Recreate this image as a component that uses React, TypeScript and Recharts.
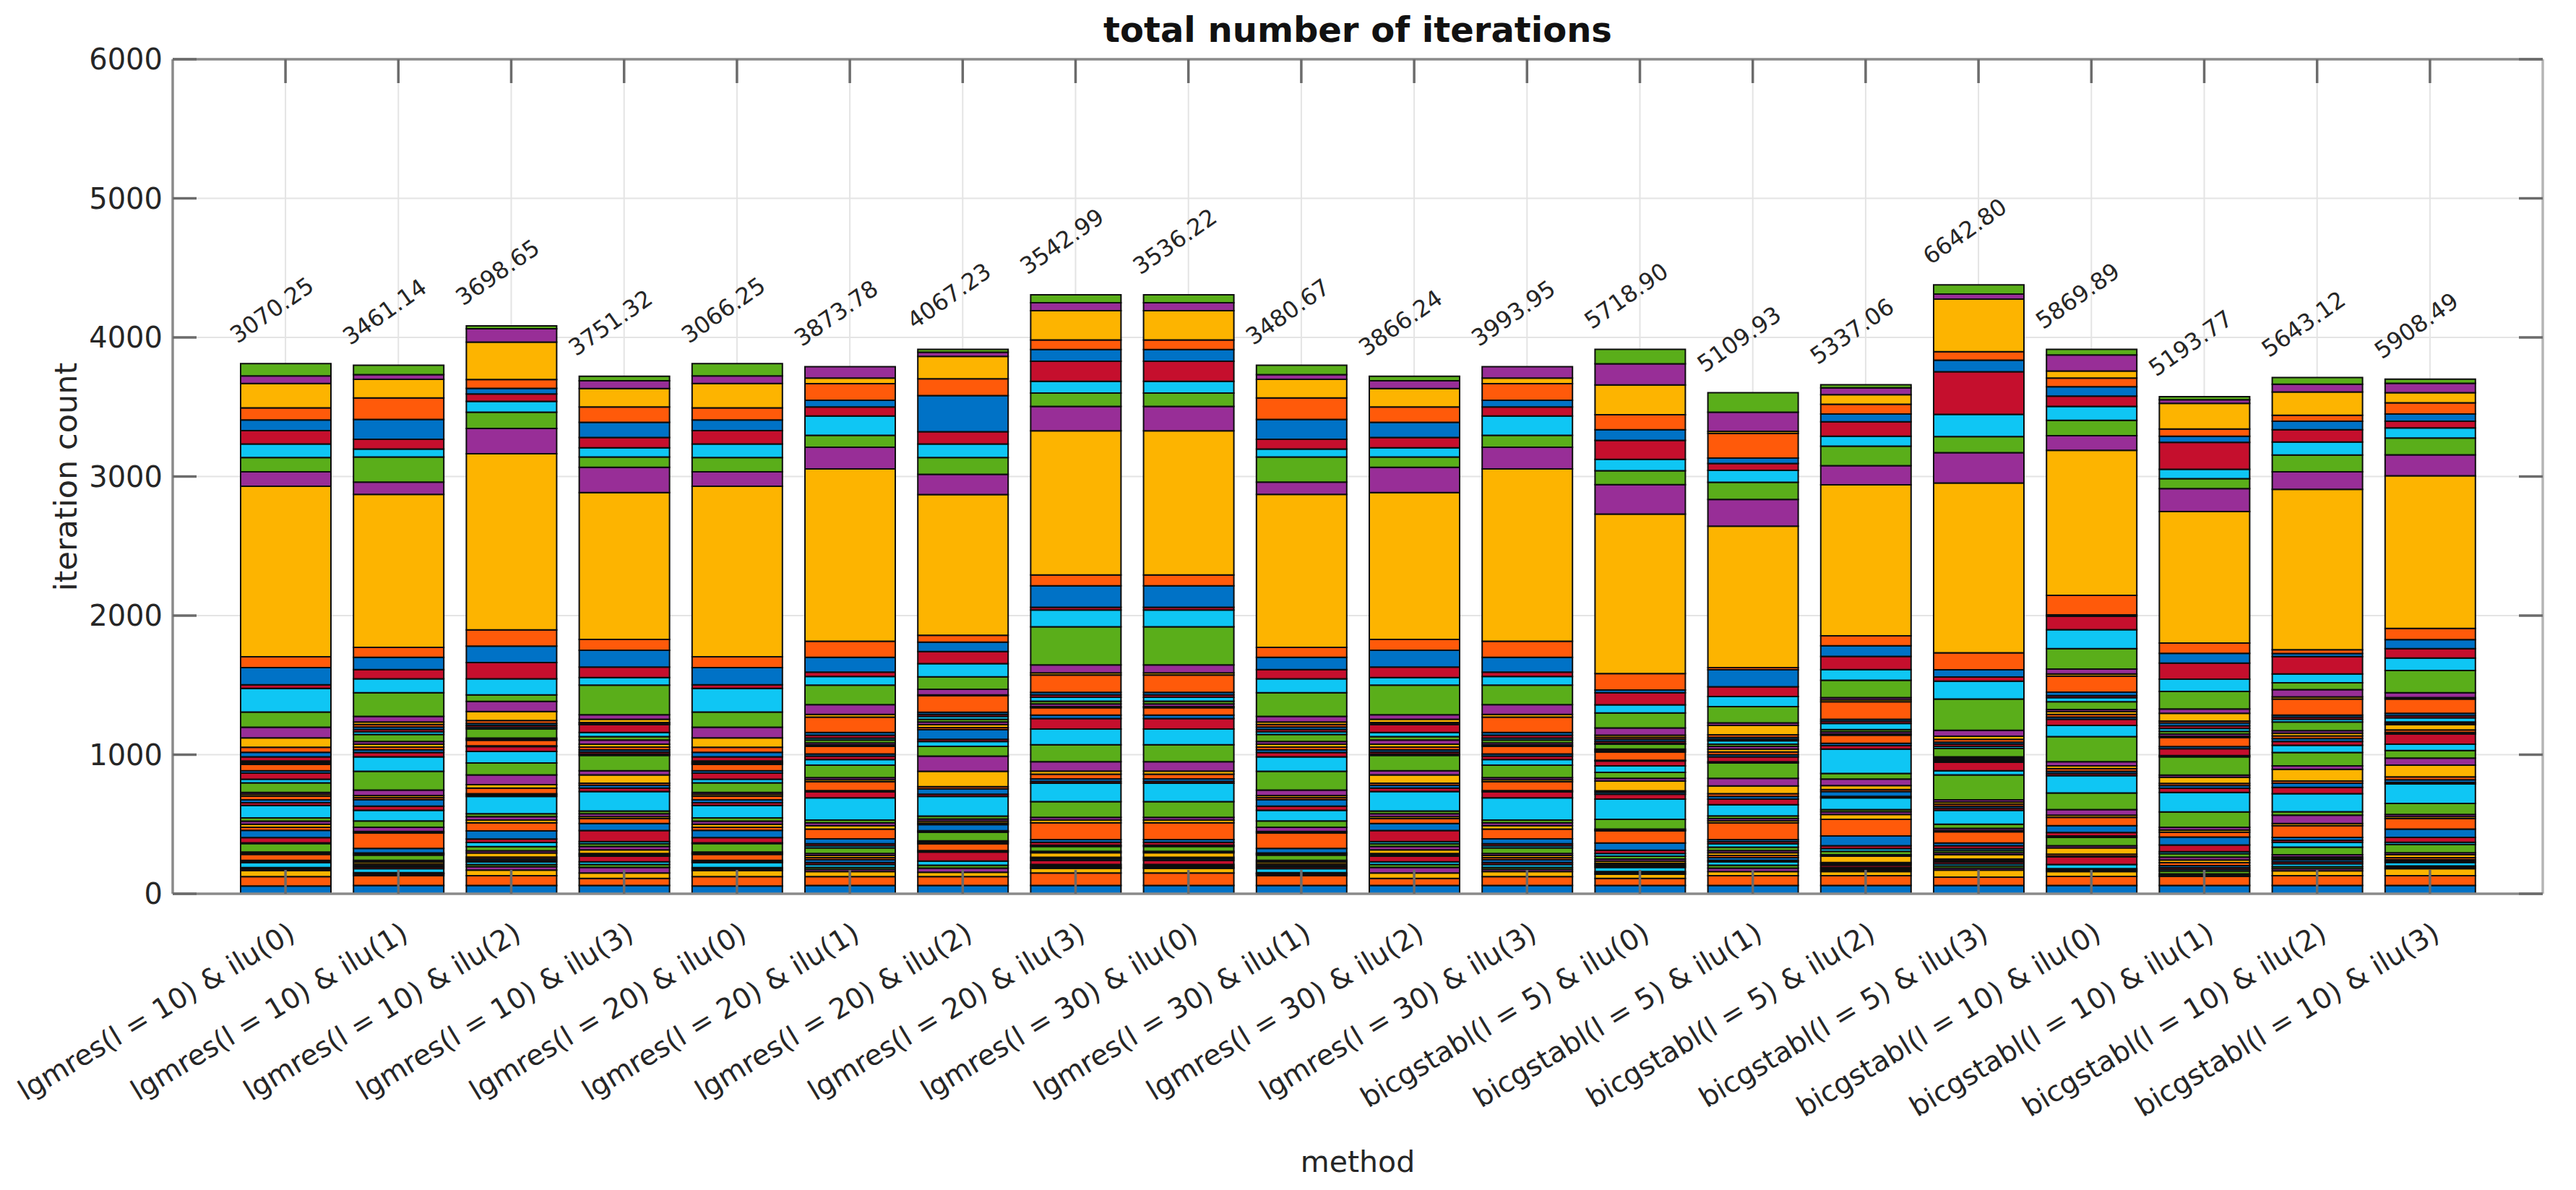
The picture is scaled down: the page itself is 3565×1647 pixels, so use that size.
import React from 'react';
import { ComposedChart, Bar, Line, XAxis, YAxis, CartesianGrid } from 'recharts';

const methods = [
  'lgmres(l = 10) & ilu(0)', 'lgmres(l = 10) & ilu(1)', 'lgmres(l = 10) & ilu(2)', 'lgmres(l = 10) & ilu(3)',
  'lgmres(l = 20) & ilu(0)', 'lgmres(l = 20) & ilu(1)', 'lgmres(l = 20) & ilu(2)', 'lgmres(l = 20) & ilu(3)',
  'lgmres(l = 30) & ilu(0)', 'lgmres(l = 30) & ilu(1)', 'lgmres(l = 30) & ilu(2)', 'lgmres(l = 30) & ilu(3)',
  'bicgstabl(l = 5) & ilu(0)', 'bicgstabl(l = 5) & ilu(1)', 'bicgstabl(l = 5) & ilu(2)', 'bicgstabl(l = 5) & ilu(3)',
  'bicgstabl(l = 10) & ilu(0)', 'bicgstabl(l = 10) & ilu(1)', 'bicgstabl(l = 10) & ilu(2)', 'bicgstabl(l = 10) & ilu(3)',
];

const annotations = [
  '3070.25', '3461.14', '3698.65', '3751.32', '3066.25', '3873.78', '4067.23', '3542.99', '3536.22', '3480.67',
  '3866.24', '3993.95', '5718.90', '5109.93', '5337.06', '6642.80', '5869.89', '5193.77', '5643.12', '5908.49',
];

const yTicks = [0, 1000, 2000, 3000, 4000, 5000, 6000];

const palette = ['#0072C6', '#FF5A0A', '#FDB400', '#982E97', '#5AAE1A', '#0FC6F4', '#C50F2D'];

// stacked segment values (bottom to top) for each method
const lgmres10_ilu0 = [56, 67, 43, 12, 10, 35, 8, 9, 43, 8, 9, 61, 5, 38, 52, 22, 22, 22, 23, 90, 20, 20, 28, 12, 14, 69, 26, 44, 17, 45, 6, 6, 6, 6, 30, 33, 36, 68, 76, 110, 170, 25, 124, 78, 1226, 104, 103, 97, 96, 76, 88, 175, 55, 88];
const lgmres10_ilu1 = [60, 70, 10, 6, 6, 28, 12, 12, 12, 12, 12, 38, 8, 8, 32, 112, 10, 30, 45, 77, 30, 47, 15, 15, 39, 134, 105, 30, 20, 20, 20, 20, 50, 18, 18, 18, 18, 18, 40, 170, 100, 67, 88, 72, 1100, 88, 180, 57, 71, 142, 155, 134, 33, 68];
const lgmres10_ilu2 = [60, 70, 40, 25, 15, 18, 12, 12, 12, 30, 15, 30, 30, 25, 58, 58, 20, 25, 20, 125, 10, 10, 40, 25, 70, 85, 83, 35, 6, 40, 8, 8, 66, 12, 12, 15, 20, 66, 72, 47, 115, 117, 119, 116, 1267, 181, 117, 78, 54, 40, 63, 269, 96, 21];
const lgmres10_ilu3 = [60, 50, 40, 40, 20, 20, 40, 10, 10, 25, 25, 20, 15, 80, 50, 35, 15, 20, 20, 140, 25, 20, 15, 60, 30, 110, 10, 15, 15, 20, 20, 30, 25, 30, 55, 8, 8, 24, 32, 213, 55, 75, 121, 78, 1056, 181, 74, 66, 75, 108, 111, 132, 56, 33];
const lgmres20_ilu0 = [56, 67, 43, 12, 10, 35, 8, 9, 43, 8, 9, 61, 5, 38, 52, 22, 22, 22, 23, 90, 20, 20, 28, 12, 14, 69, 26, 44, 17, 45, 6, 6, 6, 6, 30, 33, 36, 68, 76, 110, 170, 25, 124, 78, 1226, 104, 103, 97, 96, 76, 88, 175, 55, 88];
const lgmres20_ilu1 = [60, 63, 37, 15, 15, 20, 15, 20, 15, 15, 15, 40, 15, 15, 35, 70, 25, 20, 20, 160, 42, 10, 63, 15, 15, 90, 40, 25, 15, 55, 10, 15, 20, 15, 20, 20, 110, 20, 70, 140, 62, 32, 106, 115, 1240, 155, 86, 139, 65, 48, 120, 40, 82, 0];
const lgmres20_ilu2 = [60, 63, 32, 30, 20, 30, 65, 10, 50, 10, 10, 63, 5, 5, 45, 10, 14, 16, 20, 142, 15, 40, 15, 110, 110, 70, 35, 15, 70, 15, 20, 20, 20, 20, 15, 15, 120, 5, 40, 90, 94, 87, 68, 49, 1012, 146, 121, 97, 88, 260, 121, 160, 30, 21];
const lgmres20_ilu3 = [60, 90, 33, 7, 10, 10, 30, 12, 10, 33, 10, 35, 10, 20, 20, 120, 20, 20, 112, 133, 13, 18, 34, 22, 68, 122, 113, 75, 25, 53, 7, 20, 20, 28, 17, 18, 125, 15, 57, 275, 120, 20, 154, 78, 1036, 176, 96, 84, 145, 84, 69, 210, 58, 56];
const lgmres30_ilu0 = [60, 90, 33, 7, 10, 10, 30, 12, 10, 33, 10, 35, 10, 20, 20, 120, 20, 20, 112, 133, 13, 18, 34, 22, 68, 122, 113, 75, 25, 53, 7, 20, 20, 28, 17, 18, 125, 15, 57, 275, 120, 20, 154, 78, 1036, 176, 96, 84, 145, 84, 69, 210, 58, 56];
const lgmres30_ilu1 = [60, 70, 10, 6, 6, 28, 12, 12, 12, 12, 12, 38, 8, 8, 32, 112, 10, 30, 45, 77, 30, 47, 15, 15, 39, 134, 105, 30, 20, 20, 20, 20, 50, 18, 18, 18, 18, 18, 40, 170, 100, 67, 88, 72, 1100, 88, 180, 57, 71, 142, 155, 134, 33, 68];
const lgmres30_ilu2 = [60, 50, 40, 40, 20, 20, 40, 10, 10, 25, 25, 20, 15, 80, 50, 35, 15, 20, 20, 140, 25, 20, 15, 60, 30, 110, 10, 15, 15, 20, 20, 30, 25, 30, 55, 8, 8, 24, 32, 213, 55, 75, 121, 78, 1056, 181, 74, 66, 75, 108, 111, 132, 56, 33];
const lgmres30_ilu3 = [60, 63, 37, 15, 15, 20, 15, 20, 15, 15, 15, 40, 15, 15, 35, 70, 25, 20, 20, 160, 42, 10, 63, 15, 15, 90, 40, 25, 15, 55, 10, 15, 20, 15, 20, 20, 110, 20, 70, 140, 62, 32, 106, 115, 1240, 155, 86, 139, 65, 48, 120, 40, 82, 0];
const bicg5_ilu0 = [60, 50, 30, 10, 10, 30, 10, 10, 10, 15, 15, 20, 20, 23, 52, 87, 6, 7, 70, 145, 35, 15, 10, 70, 20, 43, 47, 35, 5, 60, 10, 10, 35, 5, 15, 15, 15, 15, 52, 108, 58, 87, 20, 118, 1147, 212, 99, 83, 136, 77, 107, 215, 151, 104];
const bicg5_ilu1 = [60, 70, 30, 25, 20, 25, 10, 20, 15, 20, 15, 25, 25, 15, 15, 120, 15, 15, 20, 80, 40, 20, 20, 55, 55, 110, 10, 35, 15, 20, 20, 20, 15, 25, 10, 15, 18, 67, 18, 117, 73, 70, 122, 16, 1017, 192, 123, 86, 50, 38, 178, 15, 137, 141];
const bicg5_ilu2 = [60, 70, 30, 10, 10, 10, 15, 10, 10, 45, 10, 25, 20, 20, 70, 120, 35, 20, 15, 85, 10, 35, 15, 28, 47, 40, 175, 25, 17, 58, 10, 15, 15, 45, 15, 15, 125, 15, 15, 125, 77, 95, 76, 71, 1086, 138, 140, 72, 103, 56, 70, 69, 50, 22];
const bicg5_ilu3 = [60, 60, 50, 15, 15, 15, 15, 10, 10, 30, 15, 15, 15, 20, 20, 80, 10, 15, 30, 100, 15, 15, 15, 15, 15, 180, 30, 60, 10, 10, 10, 10, 60, 15, 15, 15, 20, 22, 43, 225, 128, 30, 52, 123, 1220, 218, 116, 160, 306, 84, 61, 377, 37, 66];
const bicg10_ilu0 = [60, 65, 35, 10, 10, 30, 55, 5, 15, 45, 15, 60, 10, 25, 50, 60, 15, 40, 120, 125, 15, 15, 20, 20, 30, 180, 80, 45, 15, 20, 20, 15, 55, 30, 15, 25, 115, 15, 35, 147, 137, 96, 10, 140, 1043, 106, 110, 100, 74, 67, 63, 50, 116, 40];
const bicg10_ilu1 = [60, 65, 8, 10, 20, 12, 13, 15, 20, 20, 20, 25, 15, 48, 57, 35, 15, 20, 110, 140, 30, 20, 15, 45, 15, 132, 8, 50, 15, 65, 10, 15, 20, 20, 20, 20, 13, 57, 30, 127, 88, 115, 70, 75, 945, 165, 72, 67, 194, 44, 51, 185, 26, 22];
const bicg10_ilu2 = [60, 70, 35, 15, 15, 20, 15, 15, 10, 10, 15, 55, 35, 15, 20, 85, 15, 60, 25, 130, 45, 30, 15, 85, 25, 95, 52, 28, 20, 20, 20, 18, 62, 20, 15, 15, 115, 15, 52, 50, 63, 125, 22, 28, 1153, 126, 120, 94, 89, 60, 43, 168, 55, 49];
const bicg10_ilu3 = [60, 70, 50, 10, 10, 25, 10, 10, 15, 20, 15, 60, 15, 35, 60, 75, 15, 15, 80, 140, 10, 20, 20, 85, 50, 55, 45, 75, 10, 18, 37, 10, 10, 30, 15, 18, 102, 10, 35, 160, 90, 67, 65, 81, 1097, 151, 120, 74, 48, 51, 81, 73, 67, 30];

const stacks = [
  lgmres10_ilu0, lgmres10_ilu1, lgmres10_ilu2, lgmres10_ilu3,
  lgmres20_ilu0, lgmres20_ilu1, lgmres20_ilu2, lgmres20_ilu3,
  lgmres30_ilu0, lgmres30_ilu1, lgmres30_ilu2, lgmres30_ilu3,
  bicg5_ilu0, bicg5_ilu1, bicg5_ilu2, bicg5_ilu3,
  bicg10_ilu0, bicg10_ilu1, bicg10_ilu2, bicg10_ilu3,
];

const SERIES_COUNT = lgmres10_ilu0.length;
const seriesKeys = Array.from({ length: SERIES_COUNT }, (_, k) => `s${k}`);

const data = methods.map((m, i) => {
  const row: any = { method: m, total: stacks[i].reduce((a, b) => a + b, 0) };
  stacks[i].forEach((v, k) => {
    row[`s${k}`] = v;
  });
  return row;
});

const FONT = '"DejaVu Sans", "Liberation Sans", Arial, sans-serif';
const TEXT = '#262626';
const AXIS = '#8a8a8a';
const TICK = '#6b6b6b';
const TL = 33;

const XTickBottom = (props: any) => {
  const { x, y, payload } = props;
  const ax = x + 9;
  const ay = y + 50;
  return (
    <g>
      <line x1={x} y1={y} x2={x} y2={y - TL} stroke={TICK} strokeWidth={3.5} />
      <text
        x={ax}
        y={ay}
        textAnchor="end"
        dominantBaseline="central"
        transform={`rotate(-31 ${ax} ${ay})`}
        fontFamily={FONT}
        fontSize={39}
        fill={TEXT}
      >
        {payload.value}
      </text>
    </g>
  );
};

const XTickTop = (props: any) => {
  const { x, y } = props;
  return <line x1={x} y1={y} x2={x} y2={y + TL} stroke={TICK} strokeWidth={3.5} />;
};

const YTickLeft = (props: any) => {
  const { x, y, payload } = props;
  return (
    <g>
      <line x1={x} y1={y} x2={x + TL} y2={y} stroke={TICK} strokeWidth={3.5} />
      <text x={x - 14} y={y} textAnchor="end" dominantBaseline="central" fontFamily={FONT} fontSize={40} fill={TEXT}>
        {payload.value}
      </text>
    </g>
  );
};

const YTickRight = (props: any) => {
  const { x, y } = props;
  return <line x1={x} y1={y} x2={x - TL} y2={y} stroke={TICK} strokeWidth={3.5} />;
};

const renderAnnotation = (p: any) => {
  const { x, y, index } = p;
  if (x == null || y == null) return null;
  const ax = x - 73;
  const ay = y - 36;
  return (
    <text
      key={`ann-${index}`}
      x={ax}
      y={ay}
      textAnchor="start"
      dominantBaseline="central"
      transform={`rotate(-35 ${ax} ${ay})`}
      fontFamily={FONT}
      fontSize={32}
      fill={TEXT}
    >
      {annotations[index]}
    </text>
  );
};

export default function App() {
  const W = 3549;
  const H = 1631;
  return (
    <div style={{ position: 'relative', width: W, height: H, fontFamily: FONT, background: '#fff' }}>
      <ComposedChart width={W} height={H} data={data} margin={{ top: 0, right: 0, bottom: 0, left: 0 }} barSize={125}>
        <CartesianGrid stroke="#e4e4e4" strokeWidth={2} />
        {seriesKeys.map((key, k) => (
          <Bar
            key={key}
            dataKey={key}
            stackId="a"
            fill={palette[k % palette.length]}
            stroke="#0d0d0d"
            strokeWidth={2}
            isAnimationActive={false}
          />
        ))}
        <Line
          xAxisId="top"
          yAxisId="right"
          dataKey="total"
          stroke="none"
          dot={false}
          activeDot={false}
          isAnimationActive={false}
          label={renderAnnotation}
        />
        <XAxis
          dataKey="method"
          interval={0}
          height={402}
          padding={{ left: 78, right: 78 }}
          tickSize={0}
          tickMargin={0}
          tickLine={false}
          axisLine={{ stroke: AXIS, strokeWidth: 3.5 }}
          tick={<XTickBottom />}
        />
        <XAxis
          xAxisId="top"
          orientation="top"
          dataKey="method"
          interval={0}
          height={74}
          padding={{ left: 78, right: 78 }}
          tickSize={0}
          tickMargin={0}
          tickLine={false}
          axisLine={{ stroke: AXIS, strokeWidth: 3.5 }}
          tick={<XTickTop />}
        />
        <YAxis
          type="number"
          width={231}
          domain={[0, 6000]}
          ticks={yTicks}
          interval={0}
          allowDataOverflow
          tickSize={0}
          tickMargin={0}
          tickLine={false}
          axisLine={{ stroke: AXIS, strokeWidth: 3.5 }}
          tick={<YTickLeft />}
        />
        <YAxis
          yAxisId="right"
          orientation="right"
          type="number"
          width={38}
          domain={[0, 6000]}
          ticks={yTicks}
          interval={0}
          allowDataOverflow
          tickSize={0}
          tickMargin={0}
          tickLine={false}
          axisLine={{ stroke: '#b5b5b5', strokeWidth: 3.5 }}
          tick={<YTickRight />}
        />
      </ComposedChart>
      <div
        style={{
          position: 'absolute',
          left: 1871,
          top: 33,
          transform: 'translate(-50%, -50%)',
          fontWeight: 'bold',
          fontSize: 48,
          color: '#111',
          whiteSpace: 'nowrap',
        }}
      >
        total number of iterations
      </div>
      <div
        style={{
          position: 'absolute',
          left: 83,
          top: 652,
          transform: 'translate(-50%, -50%) rotate(-90deg)',
          fontSize: 43,
          color: TEXT,
          whiteSpace: 'nowrap',
        }}
      >
        iteration count
      </div>
      <div
        style={{
          position: 'absolute',
          left: 1871,
          top: 1600,
          transform: 'translate(-50%, -50%)',
          fontSize: 41,
          color: TEXT,
          whiteSpace: 'nowrap',
        }}
      >
        method
      </div>
    </div>
  );
}
